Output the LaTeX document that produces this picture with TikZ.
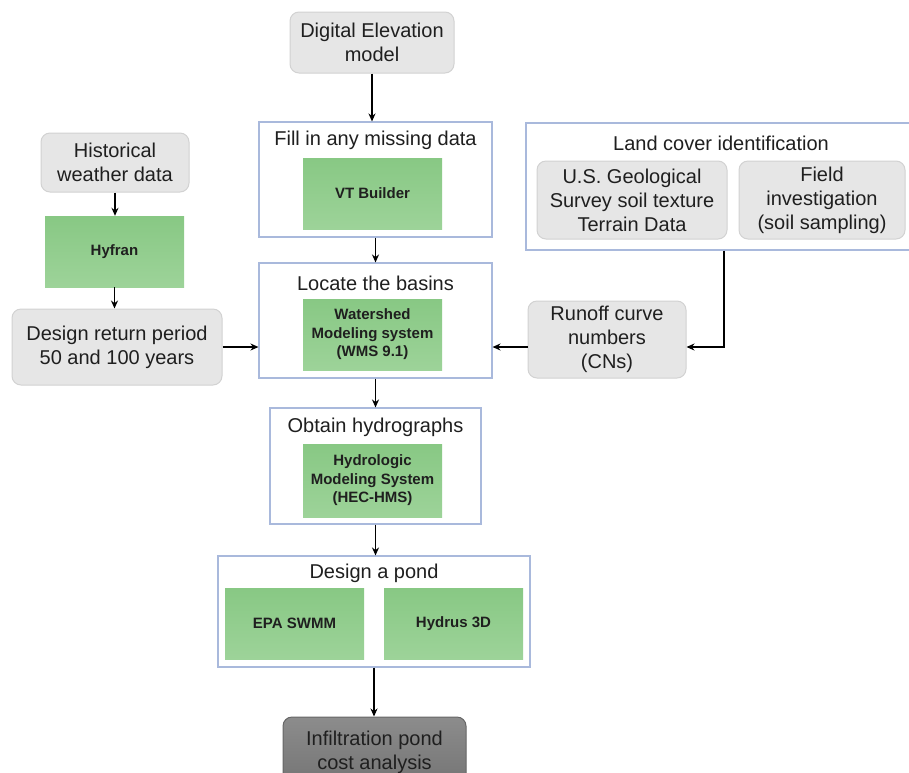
\documentclass[tikz,border=0pt]{standalone}
\usepackage{fontspec}
\setmainfont{Liberation Sans}
\usepackage{xcolor}
\usetikzlibrary{positioning,shapes,arrows,arrows.meta,fit,backgrounds}
\definecolor{boxgray}{HTML}{E6E6E6}
\definecolor{linegray}{HTML}{D2D2D2}
\definecolor{toolgreenA}{HTML}{88C884}
\definecolor{toolgreenB}{HTML}{9DD399}
\definecolor{groupblue}{HTML}{A9B9DC}
\definecolor{endgrayA}{HTML}{8C8C8C}
\definecolor{endgrayB}{HTML}{747474}

\begin{document}
\begin{tikzpicture}[x=1pt, y=-1pt, >={Stealth[length=8pt,width=7pt]},
  every node/.append style={align=center, inner sep=2pt, text=black!88, font=\fontsize{20}{24}\selectfont},
  inbox/.style={draw=linegray, fill=boxgray, rounded corners=9pt, line width=1pt},
  tool/.style={top color=toolgreenA, bottom color=toolgreenB, font=\bfseries\fontsize{15}{18.5}\selectfont, minimum width=139, minimum height=71},
  group/.style={draw=groupblue, fill=white, line width=1.1pt},
  endbox/.style={draw=black!60, top color=endgrayA, bottom color=endgrayB, rounded corners=9pt, line width=1pt},
  flow/.style={->, line width=1.6pt}]
  \useasboundingbox (0,0) rectangle (909,772);
  % central chain
  \node [inbox, minimum width=164, minimum height=61] at (372,42.5) (dem) {Digital Elevation\\model};
  \node [group, minimum width=233, minimum height=115] at (375.5,179.5) (fill) {};
  \node at (375.5,140) (filltitle) {Fill in any missing data};
  \node [tool] at (372.5,193.5) (vtb) {VT Builder};
  \node [group, minimum width=233, minimum height=115] at (375.5,320.5) (locate) {};
  \node at (375.5,283) (locatetitle) {Locate the basins};
  \node [tool] at (372.5,334.5) (wms) {Watershed\\Modeling system\\(WMS 9.1)};
  \node [group, minimum width=211, minimum height=116] at (375.5,466) (obtain) {};
  \node at (375.5,427) (obtaintitle) {Obtain hydrographs};
  \node [tool, minimum height=73] at (372.5,480.5) (hms) {Hydrologic\\Modeling System\\(HEC-HMS)};
  \node [group, minimum width=312, minimum height=111] at (374,611.5) (pond) {};
  \node at (374,573) (pondtitle) {Design a pond};
  \node [tool] at (294.5,623.5) (swmm) {EPA SWMM};
  \node [tool] at (453.5,623.5) (hydrus) {Hydrus 3D};
  \node [endbox, minimum width=183, minimum height=70] at (374.5,752) (cost) {Infiltration pond\\cost analysis};
  % left branch
  \node [inbox, minimum width=148, minimum height=59] at (115,162.5) (hist) {Historical\\weather data};
  \node [tool] at (114.5,251.5) (hyfran) {Hyfran};
  \node [inbox, minimum width=210, minimum height=76] at (117,347) (design) {Design return period\\50 and 100 years};
  % right branch
  \node [group, minimum width=390, minimum height=127] at (721,186.5) (land) {};
  \node at (721,143) (landtitle) {Land cover identification};
  \node [inbox, minimum width=190, minimum height=78] at (632,200) (usgs) {U.S. Geological\\Survey soil texture\\Terrain Data};
  \node [inbox, minimum width=166, minimum height=78] at (822,200) (field) {Field\\investigation\\(soil sampling)};
  \node [inbox, minimum width=158, minimum height=77] at (607,339.5) (runoff) {Runoff curve\\numbers\\(CNs)};
  \coordinate (bend) at (724,347);
  % connectors
  \draw [flow] (dem.south) -- (dem.south |- fill.north);
  \draw [flow] (fill.south) -- (locate.north);
  \draw [flow] (locate.south) -- (obtain.north);
  \draw [flow] (obtain.south) -- (obtain.south |- pond.north);
  \draw [flow] (pond.south) -- (pond.south |- cost.north);
  \draw [flow] (hist.south) -- (hist.south |- hyfran.north);
  \draw [flow] (hyfran.south) -- (hyfran.south |- design.north);
  \draw [flow] (design.east) -- (design.east -| locate.west);
  \draw [flow] (bend |- land.south) -- (bend) -- (bend -| runoff.east);
  \draw [flow] (runoff.west |- bend) -- (locate.east |- bend);
\end{tikzpicture}
\end{document}
